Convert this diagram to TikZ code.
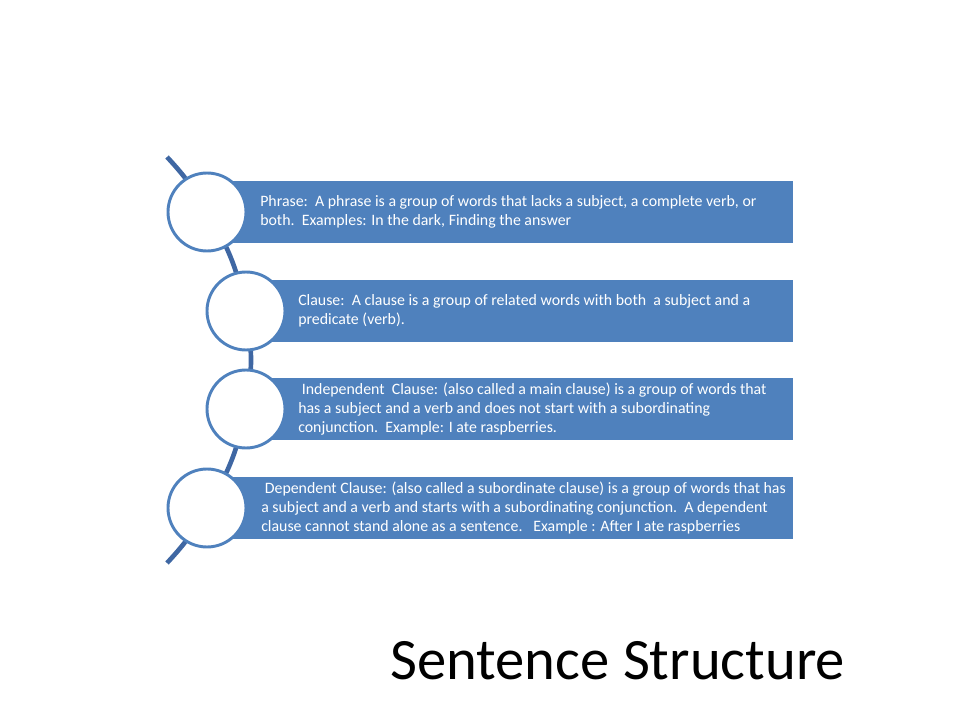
\documentclass[tikz,border=0pt]{standalone}
\usepackage{fontspec}
\setmainfont{Carlito}
\usetikzlibrary{positioning}
\definecolor{barblue}{HTML}{4F81BD}
\definecolor{spineblue}{HTML}{3F67A3}
\begin{document}
\begin{tikzpicture}[x = 0.75pt, y = -0.75pt,
		bar/.style = {fill = barblue, minimum height = 46.5pt, inner sep = 0pt, anchor = west},
		ring/.style = {circle, draw = barblue, line width = 2.2pt, fill = white, minimum size = 58.5pt, inner sep = 0pt},
		words/.style = {text = white, font = \fontsize{11.9}{14.3}\selectfont, align = left, anchor = west, inner sep = 0pt}]
		\useasboundingbox (0, 0) rectangle (960, 720);
		\coordinate (top) at (167, 157);
		\coordinate (bottom) at (167, 563);
		\coordinate (p1) at (207, 212);
		\coordinate (p2) at (246, 311);
		\coordinate (p3) at (246, 409);
		\coordinate (p4) at (207, 508);
		\draw[spineblue, line width = 3.5pt] (top) to[bend left = 7] (p1) to[bend left = 10] (p2) to[bend left = 10] (p3) to[bend left = 10] (p4) to[bend left = 7] (bottom);
		\node[bar, minimum width = 439.5pt] (bar1) at (p1) {};
		\node[bar, minimum width = 410.25pt] (bar2) at (p2) {};
		\node[bar, minimum width = 410.25pt] (bar3) at (p3) {};
		\node[bar, minimum width = 439.5pt] (bar4) at (p4) {};
		\foreach \i in {1,2,3,4}{ \node[ring] (ring\i) at (p\i) {}; }
		\node[words] (txt1) at (260, 212) {Phrase:\ \ A phrase is a group of words that lacks a subject,\ a complete verb, or\\both.\ \ Examples: In the dark, Finding the answer};
		\node[words] (txt2) at (298, 311) {Clause:\ \ A clause is a group of related words with both\ \ a subject and a\\predicate (verb).};
		\node[words] (txt3) at (298, 409) {\ Independent\ \ Clause: (also called a main clause) is a group of words that\\has a subject and a verb and does not start with a subordinating\\conjunction.\ \ Example: I ate raspberries.};
		\node[words] (txt4) at (261, 508) {\ Dependent Clause: (also called a subordinate clause) is a group of words that has\\a subject and a verb and starts with a subordinating conjunction.\ \ A dependent\\clause cannot stand alone as a sentence.\ \ \ Example : After I ate raspberries};
		\node[anchor = base west, inner sep = 0pt, font = \fontsize{44}{50}\selectfont] (title) at (390, 679) {Sentence Structure};
	\end{tikzpicture}
\end{document}
